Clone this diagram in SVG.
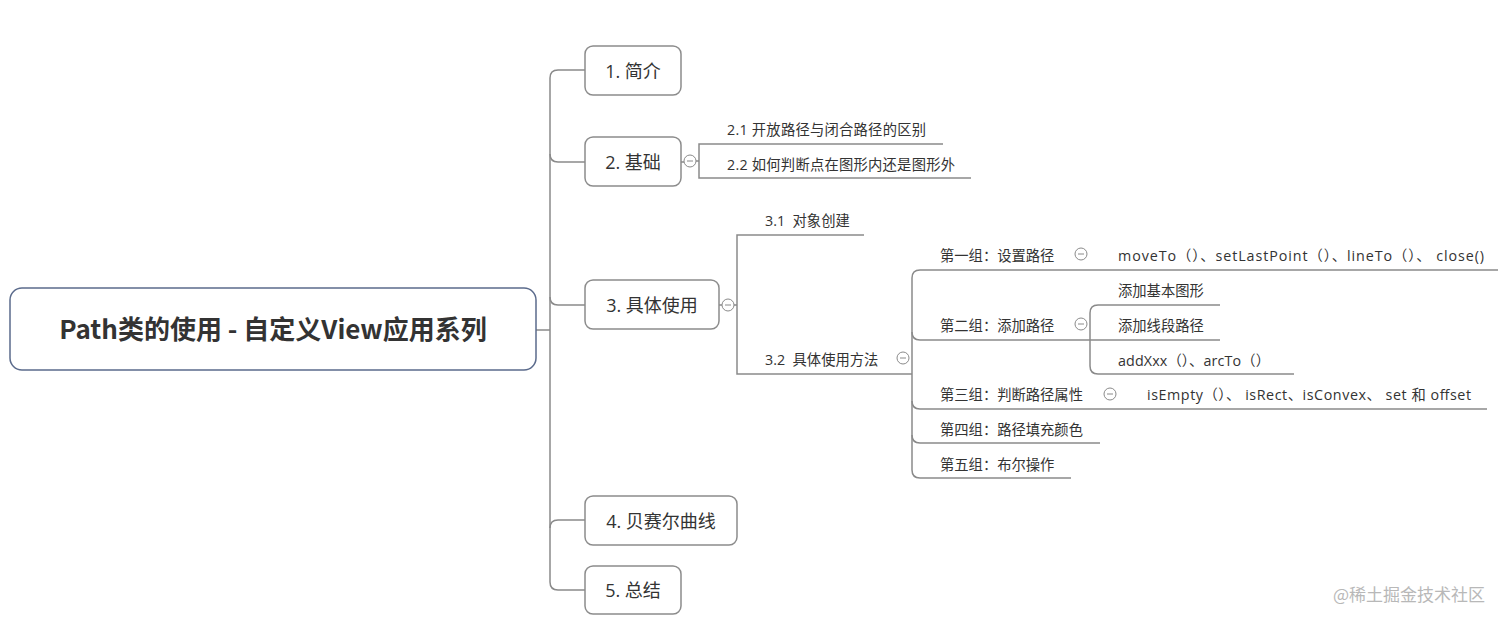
<svg xmlns="http://www.w3.org/2000/svg" width="1512" height="623" viewBox="0 0 1512 623">
<style>
text{font-family:"Noto Sans CJK SC","Noto Sans",sans-serif;fill:#333}
.box{fill:#fff;stroke:#8c8c8c;stroke-width:1.5}
.t18{font-size:18px;font-family:"Open Sans","Noto Sans CJK SC",sans-serif}
.t14{font-size:14.3px;font-family:"Open Sans","Noto Sans CJK SC",sans-serif}
.ln{fill:none;stroke:#8a8a8a;stroke-width:1.5}
.ic{fill:#fff;stroke:#8a8a8a;stroke-width:1}
.mn{stroke:#8a8a8a;stroke-width:1}
</style>
<defs>
<g id="minus"><circle class="ic" r="6"/><line class="mn" x1="-3" y1="0" x2="3" y2="0"/></g>
</defs>
<rect width="1512" height="623" fill="#fff"/>
<g id="connectors">
<path class="ln" d="M536,330 H550"/>
<path class="ln" d="M585,70 H558 Q550,70 550,78 V582 Q550,590 558,590 H585"/>
<path class="ln" d="M550,154 Q550,162 558,162 H585"/>
<path class="ln" d="M550,297 Q550,305 558,305 H585"/>
<path class="ln" d="M550,528 Q550,520 558,520 H585"/>
<path class="ln" d="M681,162 H684"/>
<path class="ln" d="M696,161 H699"/>
<path class="ln" d="M943,144 H699 V178 H971"/>
<path class="ln" d="M719,305 H722"/>
<path class="ln" d="M734,305 H737"/>
<path class="ln" d="M864,235 H737 V374 H912"/>
<path class="ln" d="M1498,270 H920 Q912,270 912,278 V470 Q912,478 920,478 H1071"/>
<path class="ln" d="M912,332 Q912,340 920,340 H1090"/>
<path class="ln" d="M912,401 Q912,409 920,409 H1487"/>
<path class="ln" d="M912,435 Q912,443 920,443 H1100"/>
<path class="ln" d="M1220,305 H1098 Q1090,305 1090,313 V366 Q1090,374 1098,374 H1294"/>
<path class="ln" d="M1090,340 H1220"/>
</g>
<g id="root">
<rect x="10" y="288" width="526" height="82" rx="12" fill="#fff" stroke="#5b6b8c" stroke-width="1.5"/>
<text x="273" y="339" font-size="26" font-weight="bold" text-anchor="middle">Path类的使用 - 自定义View应用系列</text>
</g>
<g id="n1"><rect class="box" x="585" y="46" width="96" height="49" rx="8"/><text class="t18" x="633" y="78" text-anchor="middle">1. 简介</text></g>
<g id="n2"><rect class="box" x="585" y="137" width="96" height="49" rx="8"/><text class="t18" x="633" y="169" text-anchor="middle">2. 基础</text><use href="#minus" x="690" y="161"/></g>
<g id="n3"><rect class="box" x="585" y="280" width="134" height="49" rx="8"/><text class="t18" x="652" y="312" text-anchor="middle">3. 具体使用</text><use href="#minus" x="728" y="305"/></g>
<g id="n4"><rect class="box" x="585" y="496" width="152" height="49" rx="8"/><text class="t18" x="661" y="528" text-anchor="middle">4. 贝赛尔曲线</text></g>
<g id="n5"><rect class="box" x="585" y="566" width="96" height="48" rx="8"/><text class="t18" x="633" y="597" text-anchor="middle">5. 总结</text></g>
<g id="n21"><text class="t14" x="727" y="135" textLength="199" lengthAdjust="spacing">2.1 开放路径与闭合路径的区别</text></g>
<g id="n22"><text class="t14" x="727" y="170" textLength="228" lengthAdjust="spacing">2.2 如何判断点在图形内还是图形外</text></g>
<g id="n31"><text class="t14" x="765" y="226" xml:space="preserve">3.1  对象创建</text></g>
<g id="n32"><text class="t14" x="765" y="365" xml:space="preserve">3.2  具体使用方法</text><use href="#minus" x="903" y="358"/></g>
<g id="g1"><text class="t14" x="940" y="261">第一组：设置路径</text><use href="#minus" x="1081" y="254"/></g>
<g id="g1a"><text class="t14" x="1118" y="261" textLength="366" lengthAdjust="spacing">moveTo（）、setLastPoint（）、lineTo（）、 close()</text></g>
<g id="g2"><text class="t14" x="940" y="331">第二组：添加路径</text><use href="#minus" x="1081" y="324"/></g>
<g id="g2a"><text class="t14" x="1118" y="296">添加基本图形</text></g>
<g id="g2b"><text class="t14" x="1118" y="331">添加线段路径</text></g>
<g id="g2c"><text class="t14" x="1118" y="366" textLength="152" lengthAdjust="spacing">addXxx（）、arcTo（）</text></g>
<g id="g3"><text class="t14" x="940" y="400">第三组：判断路径属性</text><use href="#minus" x="1110" y="394"/></g>
<g id="g3a"><text class="t14" x="1147" y="400" textLength="324" lengthAdjust="spacing">isEmpty（）、 isRect、isConvex、 set 和 offset</text></g>
<g id="g4"><text class="t14" x="940" y="435">第四组：路径填充颜色</text></g>
<g id="g5"><text class="t14" x="940" y="470">第五组：布尔操作</text></g>
<text x="1333" y="601" font-size="17" style="fill:#b8b8b8">@稀土掘金技术社区</text>
</svg>
